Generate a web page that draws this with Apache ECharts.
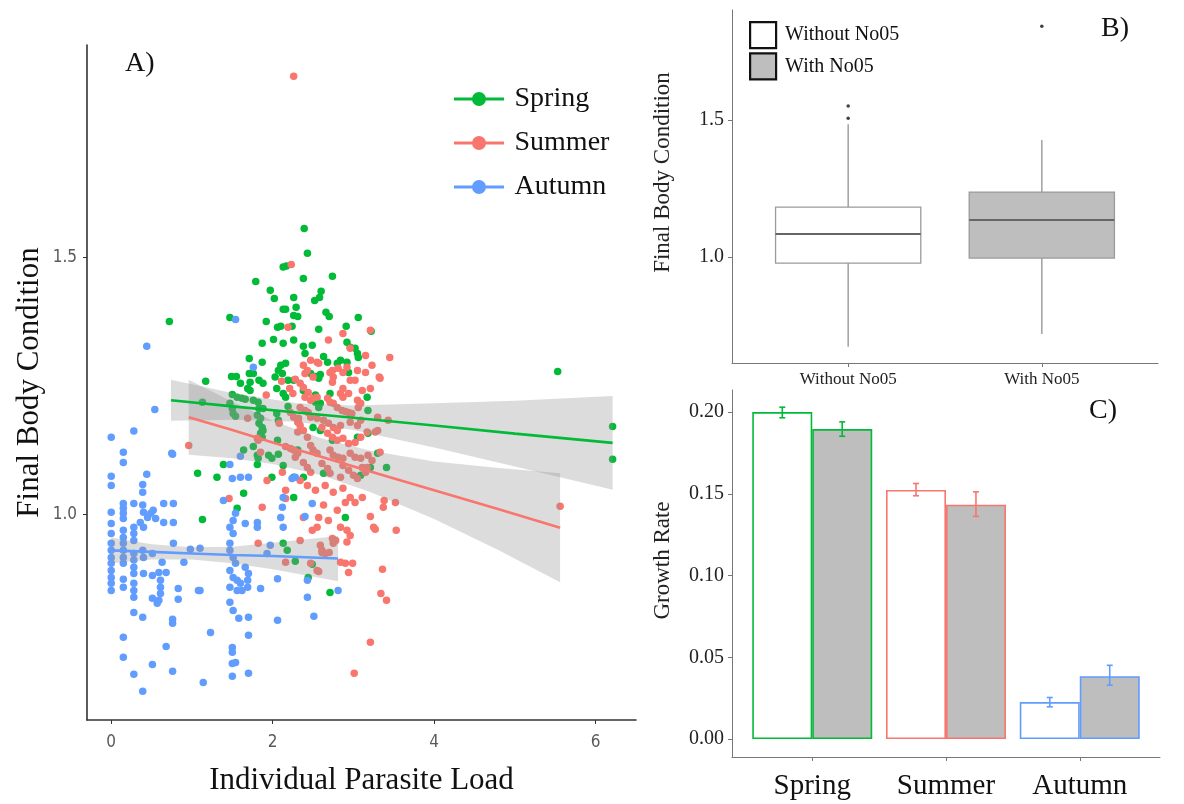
<!DOCTYPE html>
<html>
<head>
<meta charset="utf-8">
<script src="https://cdn.jsdelivr.net/npm/echarts@6/dist/echarts.min.js"></script>
<style>
html, body { margin: 0; padding: 0; background: #fff; }
#main { width: 1184px; height: 804px; }
</style>
</head>
<body>
<div id="main"></div>
<script>
// ---- panel A: body condition vs parasite load ----
const seasons = ['Spring', 'Summer', 'Autumn'];
const seasonColors = ['#00BA38', '#F8766D', '#619CFF'];

const springPts = [[2.39,1.556],[2.43,1.508],[2.13,1.481],[2.17,1.483],[2.38,1.459],[1.79,1.453],[1.97,1.436],[2.02,1.420],[2.26,1.422],[2.74,1.463],[2.60,1.434],[2.58,1.422],[2.52,1.416],[2.29,1.403],[2.13,1.399],[2.16,1.399],[2.26,1.387],[2.31,1.385],[2.66,1.393],[2.70,1.385],[3.06,1.383],[1.92,1.375],[1.47,1.383],[0.72,1.375],[2.06,1.364],[2.10,1.366],[2.24,1.366],[2.57,1.360],[2.91,1.366],[3.22,1.356],[2.01,1.340],[1.87,1.333],[2.13,1.333],[2.26,1.339],[2.92,1.335],[2.38,1.327],[2.49,1.329],[2.96,1.325],[3.02,1.323],[3.05,1.313],[3.06,1.305],[2.40,1.313],[1.71,1.303],[1.87,1.296],[2.10,1.290],[2.16,1.294],[2.63,1.307],[2.68,1.296],[2.80,1.294],[2.84,1.300],[2.92,1.296],[2.94,1.276],[2.07,1.280],[2.12,1.274],[1.71,1.274],[1.76,1.274],[1.49,1.268],[1.55,1.268],[1.60,1.255],[1.17,1.259],[1.72,1.257],[1.83,1.261],[1.88,1.255],[2.03,1.267],[2.19,1.261],[2.26,1.261],[2.47,1.274],[2.53,1.268],[2.59,1.272],[2.57,1.265],[1.69,1.245],[1.72,1.241],[2.05,1.245],[2.13,1.235],[1.50,1.233],[1.56,1.228],[1.62,1.226],[1.66,1.224],[1.76,1.222],[1.82,1.218],[2.16,1.228],[1.13,1.218],[1.47,1.216],[1.50,1.206],[1.83,1.206],[1.88,1.206],[2.19,1.210],[2.38,1.241],[2.53,1.232],[2.71,1.235],[3.17,1.228],[2.53,1.218],[2.59,1.216],[2.57,1.208],[3.18,1.202],[1.51,1.196],[1.54,1.191],[1.81,1.193],[1.85,1.187],[2.05,1.196],[2.07,1.183],[1.83,1.177],[1.87,1.169],[1.88,1.163],[1.85,1.158],[1.87,1.150],[2.06,1.144],[2.50,1.169],[2.59,1.163],[3.18,1.158],[3.05,1.150],[2.74,1.144],[1.76,1.132],[1.64,1.125],[1.81,1.115],[1.82,1.109],[1.95,1.115],[1.99,1.109],[2.31,1.125],[2.07,1.117],[3.30,1.119],[3.41,1.091],[3.21,1.091],[3.09,1.076],[1.39,1.097],[2.13,1.095],[1.07,1.080],[1.31,1.072],[1.99,1.072],[2.63,1.080],[2.38,1.072],[2.26,1.072],[1.81,1.097],[1.64,1.041],[1.56,1.012],[1.13,0.990],[2.26,1.033],[2.90,0.994],[2.13,0.944],[2.18,0.930],[2.28,0.909],[2.49,0.903],[2.44,0.877],[2.71,0.848],[5.53,1.278],[6.21,1.171],[6.21,1.107]];

const summerPts = [[2.26,1.852],[2.23,1.486],[2.19,1.364],[2.47,1.300],[2.55,1.296],[2.38,1.290],[2.69,1.339],[2.87,1.352],[3.21,1.358],[2.96,1.323],[3.15,1.309],[3.45,1.305],[3.23,1.290],[3.32,1.267],[2.57,1.294],[2.43,1.280],[2.81,1.284],[2.92,1.286],[2.71,1.276],[2.75,1.267],[2.74,1.257],[3.15,1.276],[3.33,1.265],[2.96,1.261],[3.02,1.261],[2.11,1.259],[2.28,1.263],[2.34,1.255],[2.38,1.247],[2.21,1.245],[2.25,1.235],[2.87,1.245],[2.84,1.235],[2.87,1.228],[2.94,1.235],[3.11,1.241],[3.21,1.245],[2.44,1.237],[2.40,1.228],[2.47,1.222],[2.50,1.226],[2.55,1.228],[2.68,1.226],[2.71,1.218],[2.75,1.216],[3.05,1.222],[3.09,1.216],[3.06,1.208],[1.92,1.232],[2.80,1.208],[2.86,1.202],[2.90,1.200],[2.94,1.198],[2.98,1.196],[2.34,1.208],[2.40,1.202],[2.44,1.198],[2.22,1.198],[2.26,1.189],[2.31,1.179],[2.34,1.173],[2.47,1.189],[2.55,1.187],[2.63,1.183],[2.61,1.169],[2.69,1.177],[2.75,1.169],[2.80,1.163],[2.84,1.173],[2.96,1.179],[3.05,1.173],[3.09,1.183],[3.17,1.160],[3.30,1.163],[3.30,1.189],[3.43,1.183],[3.27,1.160],[1.69,1.187],[2.32,1.187],[2.32,1.179],[2.08,1.177],[2.31,1.160],[2.38,1.163],[2.43,1.150],[2.68,1.158],[2.74,1.150],[2.80,1.144],[2.87,1.148],[2.94,1.138],[3.02,1.140],[3.09,1.150],[1.81,1.148],[1.82,1.144],[0.96,1.134],[2.16,1.132],[2.22,1.128],[1.85,1.121],[2.47,1.134],[2.50,1.125],[2.55,1.119],[2.26,1.125],[2.31,1.119],[2.71,1.125],[2.75,1.115],[2.81,1.111],[2.87,1.109],[2.96,1.119],[3.02,1.111],[3.09,1.109],[3.18,1.115],[3.33,1.121],[3.23,1.105],[3.17,1.091],[2.28,1.111],[2.38,1.101],[2.43,1.091],[2.47,1.082],[2.61,1.099],[2.68,1.089],[2.71,1.080],[2.87,1.095],[2.94,1.086],[3.00,1.076],[3.11,1.091],[3.15,1.082],[2.84,1.072],[3.05,1.070],[2.12,1.082],[1.93,1.066],[1.46,1.031],[1.87,1.014],[2.16,1.047],[2.16,1.031],[2.38,0.994],[2.55,0.975],[2.57,0.994],[2.61,0.930],[2.65,0.924],[2.55,0.891],[1.82,0.944],[2.16,0.907],[2.96,1.033],[3.02,1.023],[3.11,1.033],[3.52,1.023],[3.38,1.027],[3.37,1.014],[3.21,0.996],[3.27,0.971],[3.25,0.975],[3.53,0.969],[2.84,0.975],[2.92,0.969],[2.96,0.959],[2.92,0.946],[2.74,0.953],[2.75,0.944],[2.78,0.949],[2.59,0.940],[2.61,0.926],[2.70,0.926],[2.47,0.905],[2.84,0.907],[2.90,0.905],[2.99,0.905],[2.94,0.887],[2.57,0.889],[3.36,0.893],[3.34,0.846],[3.41,0.833],[3.21,0.751],[3.01,0.691],[5.56,1.016],[2.40,1.274],[2.50,1.267],[2.74,1.280],[2.87,1.276],[3.05,1.280],[2.34,1.066],[2.43,1.056],[2.53,1.047],[2.65,1.056],[2.75,1.043],[2.87,1.051],[2.63,1.018],[2.80,1.008],[2.90,1.023],[2.69,0.988],[2.49,0.969],[2.34,0.949]];

const autumnPts = [[0.54,1.204],[0.00,1.150],[0.28,1.162],[0.15,1.121],[0.15,1.101],[0.75,1.119],[0.00,1.074],[0.00,1.056],[0.44,1.078],[0.39,1.058],[0.39,1.043],[0.15,1.021],[0.15,1.012],[0.15,1.002],[0.15,0.992],[0.00,1.004],[0.00,0.982],[0.00,0.963],[0.28,1.021],[0.28,0.975],[0.28,0.963],[0.28,0.949],[0.39,1.018],[0.40,1.004],[0.45,0.994],[0.49,1.002],[0.52,1.008],[0.55,0.992],[0.65,1.021],[0.77,1.021],[0.65,0.984],[0.77,0.984],[0.36,0.984],[0.40,0.975],[0.00,0.944],[0.00,0.930],[0.00,0.916],[0.00,0.905],[0.00,0.891],[0.00,0.877],[0.00,0.866],[0.00,0.852],[0.15,0.969],[0.15,0.955],[0.15,0.944],[0.15,0.930],[0.15,0.916],[0.15,0.905],[0.15,0.874],[0.15,0.858],[0.28,0.924],[0.28,0.911],[0.28,0.897],[0.28,0.885],[0.28,0.866],[0.28,0.852],[0.28,0.839],[0.28,0.809],[0.39,0.930],[0.40,0.916],[0.51,0.924],[0.40,0.885],[0.51,0.881],[0.59,0.887],[0.68,0.887],[0.63,0.907],[0.90,0.907],[0.77,0.944],[0.98,0.932],[1.10,0.934],[0.61,0.872],[0.61,0.858],[0.61,0.846],[0.59,0.833],[0.57,0.827],[0.51,0.837],[0.83,0.856],[0.83,0.835],[1.08,0.852],[1.10,0.852],[0.39,0.800],[0.76,0.796],[0.76,0.788],[1.23,0.770],[0.15,0.761],[0.68,0.743],[0.15,0.722],[0.51,0.708],[0.28,0.689],[0.76,0.695],[1.14,0.673],[0.39,0.656],[1.50,1.070],[1.60,1.072],[1.70,1.072],[1.39,1.027],[1.54,1.002],[1.51,0.988],[1.47,0.975],[1.51,0.963],[1.47,0.944],[1.66,0.982],[1.81,0.984],[1.81,0.975],[1.47,0.930],[1.51,0.916],[1.54,0.905],[1.47,0.891],[1.51,0.877],[1.56,0.872],[1.60,0.866],[1.47,0.858],[1.56,0.852],[1.62,0.852],[1.69,0.872],[1.69,0.858],[1.66,0.897],[1.70,0.885],[1.85,0.856],[1.47,0.829],[1.51,0.813],[1.58,0.798],[1.70,0.800],[1.70,0.765],[1.50,0.741],[1.50,0.732],[1.50,0.710],[1.54,0.712],[1.50,0.685],[1.70,0.691],[2.06,0.794],[2.06,0.875],[1.97,0.940],[1.93,0.924],[2.13,0.975],[2.10,0.994],[2.12,1.014],[2.13,1.033],[2.24,1.070],[2.40,0.996],[2.49,1.021],[2.43,0.872],[2.43,0.839],[2.51,0.802],[1.60,1.113],[1.54,1.379],[0.44,1.327],[1.76,1.286],[0.76,1.117],[1.47,1.097],[2.28,1.072],[2.81,0.852]];

// fitted lines and their confidence bands
const springFitX = [0.74, 1.5, 2.3, 3.0, 4.0, 5.0, 6.21];
const springFit  = [1.222, 1.210, 1.198, 1.188, 1.173, 1.157, 1.139];
const springLo   = [1.182, 1.184, 1.180, 1.164, 1.130, 1.093, 1.048];
const springHi   = [1.262, 1.236, 1.216, 1.212, 1.216, 1.221, 1.230];

const summerFitX = [0.96, 1.5, 2.0, 2.6, 3.2, 4.0, 4.8, 5.56];
const summerFit  = [1.189, 1.164, 1.140, 1.112, 1.084, 1.047, 1.010, 0.974];
const summerLo   = [1.116, 1.109, 1.098, 1.076, 1.044, 0.991, 0.930, 0.868];
const summerHi   = [1.262, 1.219, 1.182, 1.148, 1.124, 1.103, 1.090, 1.080];

const autumnFitX = [0, 0.5, 1.0, 1.5, 2.0, 2.81];
const autumnFit  = [0.930, 0.927, 0.924, 0.921, 0.919, 0.914];
const autumnLo   = [0.905, 0.912, 0.912, 0.905, 0.893, 0.870];
const autumnHi   = [0.955, 0.942, 0.936, 0.937, 0.945, 0.958];

// ---- panel B: boxplots ----
const groups = ['Without No05', 'With No05'];
// min, Q1, median, Q3, max
const boxWithout = [0.672, 0.978, 1.084, 1.182, 1.485];
const boxWith    = [0.719, 0.996, 1.135, 1.237, 1.427];
const outlierWithout = [1.507, 1.551];
const outlierWith    = [1.843];

// ---- panel C: growth rate ----
const growthWithout = [0.200, 0.1524, 0.0226];
const growthWith    = [0.1896, 0.1433, 0.0384];
const errWithoutLo  = [0.1965, 0.1488, 0.0197];
const errWithoutHi  = [0.2030, 0.1563, 0.0254];
const errWithLo     = [0.1852, 0.1362, 0.0329];
const errWithHi     = [0.1940, 0.1512, 0.0451];

const SERIF = 'Liberation Serif';
const NARROW = '"Liberation Sans Narrow", "DejaVu Sans Condensed", Roboto, "Liberation Sans", sans-serif';

const chart = echarts.init(document.getElementById('main'));

// grey ribbon drawn as a polygon through the axis scale
function bandSeries(xs, lo, hi) {
    return {
        type: 'custom', xAxisIndex: 0, yAxisIndex: 0, silent: true, z: 3,
        data: [[xs[0], lo[0]]],
        renderItem: function (params, api) {
            const pts = [];
            for (let i = 0; i < xs.length; i++) pts.push(api.coord([xs[i], hi[i]]));
            for (let i = xs.length - 1; i >= 0; i--) pts.push(api.coord([xs[i], lo[i]]));
            return { type: 'polygon', shape: { points: pts }, style: { fill: 'rgba(150,150,150,0.33)' } };
        }
    };
}
function fitSeries(name, xs, ys, color) {
    return {
        name: name, type: 'line', xAxisIndex: 0, yAxisIndex: 0, z: 4, silent: true,
        showSymbol: false, symbol: 'none',
        data: xs.map((x, i) => [x, ys[i]]),
        lineStyle: { color: color, width: 2.6 }
    };
}
function scatterSeries(name, pts, color) {
    return {
        name: name, type: 'scatter', xAxisIndex: 0, yAxisIndex: 0, z: 2,
        symbolSize: 7.5, data: pts, itemStyle: { color: color, opacity: 1 }
    };
}
function boxSeries(name, x, stats, fill) {
    return {
        name: name, type: 'custom', xAxisIndex: 1, yAxisIndex: 1, z: 2,
        itemStyle: { color: fill },
        data: [[x].concat(stats)],
        renderItem: function (params, api) {
            const cx = api.value(0), half = 0.375;
            const top = api.coord([cx, api.value(5)]);
            const q3 = api.coord([cx, api.value(4)]);
            const q1 = api.coord([cx, api.value(2)]);
            const bot = api.coord([cx, api.value(1)]);
            const lt = api.coord([cx - half, api.value(4)]);
            const rb = api.coord([cx + half, api.value(2)]);
            const ml = api.coord([cx - half, api.value(3)]);
            const mr = api.coord([cx + half, api.value(3)]);
            const wh = { stroke: '#a0a0a0', lineWidth: 1.5 };
            return { type: 'group', children: [
                { type: 'line', shape: { x1: top[0], y1: top[1], x2: q3[0], y2: q3[1] }, style: wh },
                { type: 'line', shape: { x1: q1[0], y1: q1[1], x2: bot[0], y2: bot[1] }, style: wh },
                { type: 'rect', shape: { x: lt[0], y: lt[1], width: rb[0] - lt[0], height: rb[1] - lt[1] },
                  style: { fill: api.visual('color'), stroke: '#9a9a9a', lineWidth: 1.3 } },
                { type: 'line', shape: { x1: ml[0], y1: ml[1], x2: mr[0], y2: mr[1] }, style: { stroke: '#666', lineWidth: 2 } }
            ] };
        }
    };
}
function errSeries(offset, lo, hi) {
    return {
        type: 'custom', xAxisIndex: 2, yAxisIndex: 2, z: 5, silent: true,
        data: lo.map((v, i) => [i + 1, v, hi[i], i]),
        renderItem: function (params, api) {
            const x = api.value(0) + offset;
            const a = api.coord([x, api.value(1)]);
            const b = api.coord([x, api.value(2)]);
            const st = { stroke: seasonColors[api.value(3)], lineWidth: 1.6 };
            return { type: 'group', children: [
                { type: 'line', shape: { x1: a[0], y1: a[1], x2: b[0], y2: b[1] }, style: st },
                { type: 'line', shape: { x1: a[0] - 3, y1: a[1], x2: a[0] + 3, y2: a[1] }, style: st },
                { type: 'line', shape: { x1: b[0] - 3, y1: b[1], x2: b[0] + 3, y2: b[1] }, style: st }
            ] };
        }
    };
}

const legendIcon = 'path://M0,6 L50,6 L50,9 L0,9 Z M18,7.5 A7,7 0 1,1 32,7.5 A7,7 0 1,1 18,7.5 Z';

const option = {
    animation: false,
    backgroundColor: '#fff',
    grid: [
        { left: 87, top: 45, width: 549, height: 675 },
        { left: 732, top: 10, width: 426, height: 353 },
        { left: 732, top: 390, width: 428, height: 367 }
    ],
    legend: [
        {
            data: seasons.map(s => ({ name: s, icon: legendIcon })),
            orient: 'vertical', left: 449, top: 80, itemWidth: 51, itemHeight: 14, itemGap: 16,
            selectedMode: false,
            textStyle: { fontFamily: SERIF, fontSize: 28, color: '#111', padding: [0, 0, 0, 5] }
        },
        {
            data: groups.map(g => ({ name: g, icon: 'rect', itemStyle: { borderColor: '#111', borderWidth: 2.2 } })),
            orient: 'vertical', left: 744, top: 16, itemWidth: 26, itemHeight: 26, itemGap: 3,
            selectedMode: false,
            textStyle: { fontFamily: SERIF, fontSize: 20, color: '#111', padding: [0, 0, 0, 4] }
        }
    ],
    xAxis: [
        {
            gridIndex: 0, type: 'value', min: -0.3, max: 6.5,
            splitLine: { show: false },
            axisLine: { onZero: false, lineStyle: { color: '#333', width: 1.6 } },
            axisTick: { show: true, length: 4, customValues: [0, 2, 4, 6], lineStyle: { color: '#333' } },
            axisLabel: { customValues: [0, 2, 4, 6], color: '#5a5a5a', fontSize: 17, fontFamily: NARROW, margin: 14 },
            name: 'Individual Parasite Load', nameLocation: 'middle', nameGap: 45,
            nameTextStyle: { fontFamily: SERIF, fontSize: 31, color: '#111' }
        },
        {
            gridIndex: 1, type: 'value', min: 0.4, max: 2.6,
            splitLine: { show: false },
            axisLine: { onZero: false, lineStyle: { color: '#777', width: 1 } },
            axisTick: { show: true, length: 4, customValues: [1, 2], lineStyle: { color: '#777' } },
            axisLabel: { customValues: [1, 2], formatter: v => groups[Math.round(v) - 1], color: '#222',
                fontSize: 17, fontFamily: SERIF, margin: 8 }
        },
        {
            gridIndex: 2, type: 'value', min: 0.4, max: 3.6,
            splitLine: { show: false },
            axisLine: { onZero: false, lineStyle: { color: '#777', width: 1 } },
            axisTick: { show: true, length: 4, customValues: [1, 2, 3], lineStyle: { color: '#777' } },
            axisLabel: { customValues: [1, 2, 3], formatter: v => seasons[Math.round(v) - 1], color: '#111',
                fontSize: 29, fontFamily: SERIF, margin: 15 }
        }
    ],
    yAxis: [
        {
            gridIndex: 0, type: 'value', min: 0.6, max: 1.913,
            splitLine: { show: false },
            axisLine: { show: true, onZero: false, lineStyle: { color: '#333', width: 1.6 } },
            axisTick: { show: true, length: 4, customValues: [1.0, 1.5], lineStyle: { color: '#333' } },
            axisLabel: { customValues: [1.0, 1.5], formatter: v => v.toFixed(1), color: '#5a5a5a',
                fontSize: 17, fontFamily: NARROW, margin: 10 },
            name: 'Final Body Condition', nameLocation: 'middle', nameGap: 42,
            nameTextStyle: { fontFamily: SERIF, fontSize: 31, color: '#111' }
        },
        {
            gridIndex: 1, type: 'value', min: 0.613, max: 1.902,
            splitLine: { show: false },
            axisLine: { show: true, onZero: false, lineStyle: { color: '#777', width: 1 } },
            axisTick: { show: true, length: 4, customValues: [1.0, 1.5], lineStyle: { color: '#777' } },
            axisLabel: { customValues: [1.0, 1.5], formatter: v => v.toFixed(1), color: '#222',
                fontSize: 20, fontFamily: SERIF, margin: 8 },
            name: 'Final Body Condition', nameLocation: 'middle', nameGap: 58,
            nameTextStyle: { fontFamily: SERIF, fontSize: 23, color: '#222', padding: [0, 0, 0, 28] }
        },
        {
            gridIndex: 2, type: 'value', min: -0.011, max: 0.2135,
            splitLine: { show: false },
            axisLine: { show: true, onZero: false, lineStyle: { color: '#777', width: 1 } },
            axisTick: { show: true, length: 4, customValues: [0, 0.05, 0.1, 0.15, 0.2], lineStyle: { color: '#777' } },
            axisLabel: { customValues: [0, 0.05, 0.1, 0.15, 0.2], formatter: v => v.toFixed(2), color: '#222',
                fontSize: 20, fontFamily: SERIF, margin: 8 },
            name: 'Growth Rate', nameLocation: 'middle', nameGap: 58,
            nameTextStyle: { fontFamily: SERIF, fontSize: 23, color: '#222', padding: [0, 0, 0, 26] }
        }
    ],
    graphic: [
        { type: 'text', left: 125, top: 50, style: { text: 'A)', font: '28px "Liberation Serif"', fill: '#111' } },
        { type: 'text', left: 1101, top: 15, style: { text: 'B)', font: '28px "Liberation Serif"', fill: '#111' } },
        { type: 'text', left: 1089, top: 397, style: { text: 'C)', font: '28px "Liberation Serif"', fill: '#111' } }
    ],
    series: [
        scatterSeries('Spring', springPts, seasonColors[0]),
        scatterSeries('Summer', summerPts, seasonColors[1]),
        scatterSeries('Autumn', autumnPts, seasonColors[2]),
        bandSeries(springFitX, springLo, springHi),
        fitSeries('Spring', springFitX, springFit, seasonColors[0]),
        bandSeries(summerFitX, summerLo, summerHi),
        fitSeries('Summer', summerFitX, summerFit, seasonColors[1]),
        bandSeries(autumnFitX, autumnLo, autumnHi),
        fitSeries('Autumn', autumnFitX, autumnFit, seasonColors[2]),
        boxSeries('Without No05', 1, boxWithout, '#ffffff'),
        boxSeries('With No05', 2, boxWith, '#bebebe'),
        {
            type: 'scatter', xAxisIndex: 1, yAxisIndex: 1, symbolSize: 3.5, z: 3,
            itemStyle: { color: '#111' },
            data: outlierWithout.map(v => [1, v]).concat(outlierWith.map(v => [2, v]))
        },
        {
            name: 'rateWithout', type: 'bar', xAxisIndex: 2, yAxisIndex: 2, barWidth: 60, barGap: '0%',
            itemStyle: { color: '#ffffff', borderWidth: 1.6 },
            data: growthWithout.map((v, i) => ({ value: [i + 1, v], itemStyle: { borderColor: seasonColors[i] } }))
        },
        {
            name: 'rateWith', type: 'bar', xAxisIndex: 2, yAxisIndex: 2, barWidth: 60, barGap: '0%',
            itemStyle: { color: '#bebebe', borderWidth: 1.6 },
            data: growthWith.map((v, i) => ({ value: [i + 1, v], itemStyle: { borderColor: seasonColors[i] } }))
        },
        errSeries(-0.224, errWithoutLo, errWithoutHi),
        errSeries(0.224, errWithLo, errWithHi)
    ]
};

chart.setOption(option);
</script>
</body>
</html>
